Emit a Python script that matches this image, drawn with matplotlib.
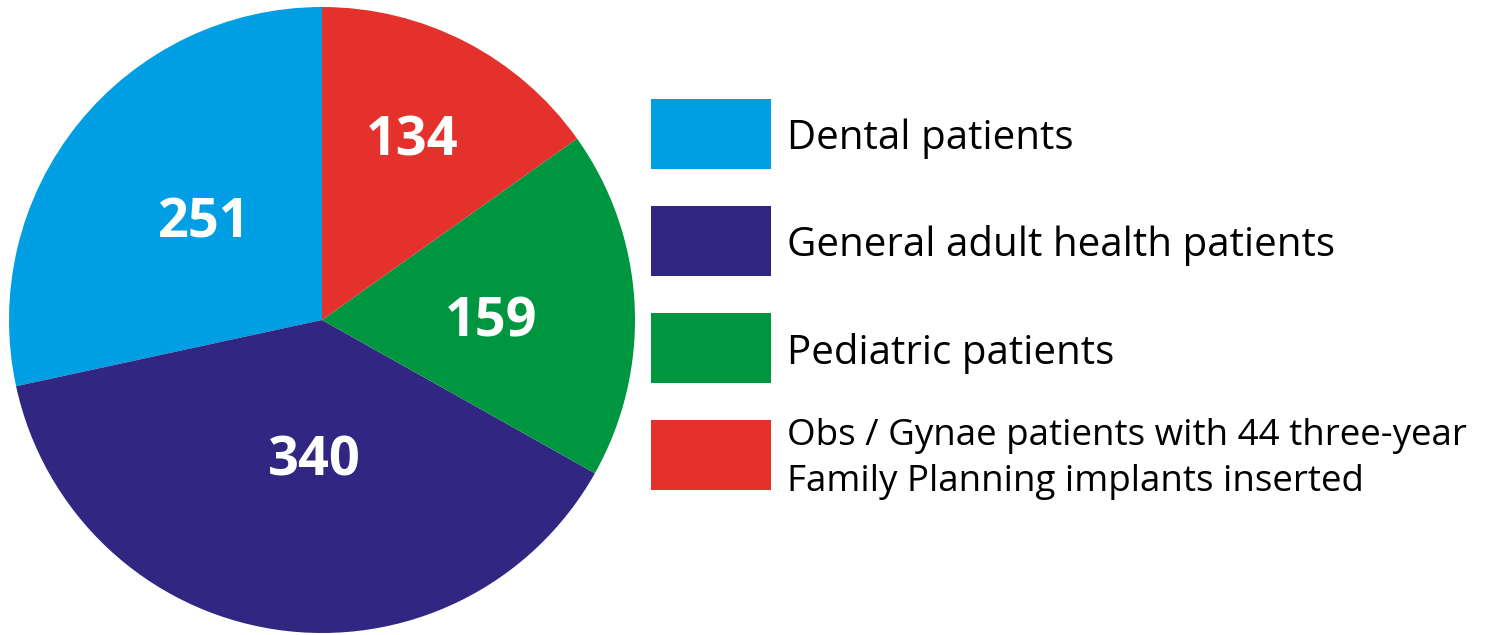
import numpy as np
import matplotlib.pyplot as plt
from matplotlib.patches import Rectangle

labels = ["Dental patients", "General adult health patients", "Pediatric patients",
          "Obs / Gynae patients with 44 three-year\nFamily Planning implants inserted"]
values = [251, 340, 159, 134]
cols = ["#009FE3", "#312783", "#009640", "#E4312C"]
# where the numbers sit inside each wedge: radius fraction, angle nudge (deg)
lbl_r = [0.50, 0.43, 0.54, 0.66]
lbl_da = [-2.4, 5.2, -1.7, 1.4]

plt.rcParams["font.family"] = ["Open Sans", "DejaVu Sans"]

W, H = 1501, 635
fig = plt.figure(figsize=(W / 100, H / 100), dpi=100)

# pie: centre (322,320) px, radius 313 px
cx, cy, r = 322, 320, 313
ax = fig.add_axes([(cx - r) / W, (H - cy - r) / H, 2 * r / W, 2 * r / H])
wedges, _ = ax.pie(values, colors=cols, startangle=90, counterclock=True,
                   radius=1, wedgeprops=dict(linewidth=0))
ax.set_xlim(-1, 1)
ax.set_ylim(-1, 1)
ax.set_aspect("equal")
ax.axis("off")

for w, v, f, da in zip(wedges, values, lbl_r, lbl_da):
    a = np.deg2rad((w.theta1 + w.theta2) / 2 + da)
    ax.text(f * np.cos(a), f * np.sin(a) - 0.022, str(v), color="white", fontsize=39,
            fontweight="bold", ha="center", va="center")

# legend, drawn by hand
box_x, box_w, box_h = 651, 120, 70
rows = [99, 206, 313, 420]
for y0, c, t in zip(rows, cols, labels):
    fig.patches.append(Rectangle((box_x / W, (H - y0 - box_h) / H), box_w / W, box_h / H,
                                 transform=fig.transFigure, color=c, lw=0))
    multi = "\n" in t
    fig.text(787 / W, (H - y0 - box_h / 2 - (4 if multi else 5)) / H, t,
             fontsize=26.5 if multi else 29,
             va="center", ha="left", color="black", linespacing=1.35)

fig.savefig("out.png", dpi=100, facecolor="white")
